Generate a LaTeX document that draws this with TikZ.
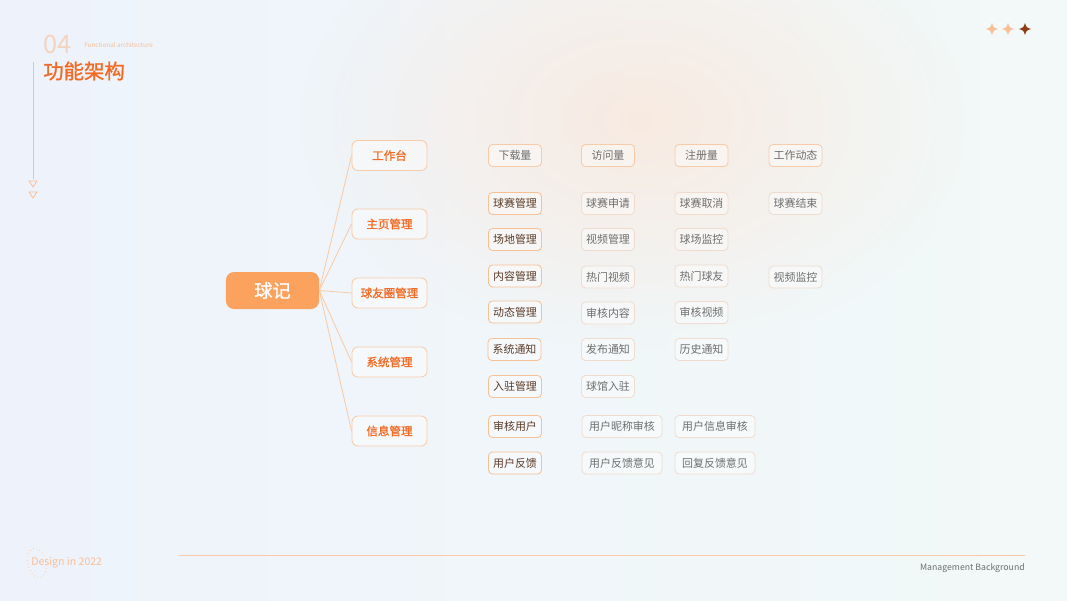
\documentclass[tikz,border=0pt]{standalone}
\usepackage{fontspec}
\setmainfont{Noto Sans CJK SC}
\newfontfamily\semibold[FakeBold=1.2]{Noto Sans CJK SC}
\usepackage{xcolor}
\usepackage{tikz}
\usetikzlibrary{positioning,fadings}
\definecolor{bgleft}{HTML}{EEF3FB}
\definecolor{bgright}{HTML}{F2F9F8}
\definecolor{glow}{HTML}{FCE4D4}
\definecolor{primary}{HTML}{F26B24}
\definecolor{rootfill}{HTML}{FBA25E}
\definecolor{edge}{HTML}{F8CBA8}
\definecolor{catline}{HTML}{F8C095}
\definecolor{leafline}{HTML}{F0DCCE}
\definecolor{dark}{HTML}{5A3A26}
\definecolor{muted}{HTML}{6E6E6E}
\definecolor{peach}{HTML}{F9BE96}
\definecolor{rust}{HTML}{8E3E12}

\tikzfading[name=softglow, inner color=transparent!35, outer color=transparent!100]

\newcommand{\sparkle}[3]{\fill[#3] (#1,#2-6) .. controls (#1+1.5,#2-1.5) .. (#1+6,#2) .. controls (#1+1.5,#2+1.5) .. (#1,#2+6) .. controls (#1-1.5,#2+1.5) .. (#1-6,#2) .. controls (#1-1.5,#2-1.5) .. (#1,#2-6) -- cycle;}

\tikzset{
    hub/.style={rectangle, rounded corners=0.2cm, fill=rootfill, minimum width=2.325cm, minimum height=0.925cm, text=white, font=\fontsize{13}{13}\selectfont\semibold},
    branch/.style={rectangle, rounded corners=0.15cm, draw=edge, line width=0.6pt, fill=white, fill opacity=0.4, text opacity=1, minimum width=1.875cm, minimum height=0.75cm, text=primary, font=\fontsize{8.2}{9}\selectfont\semibold},
    leaf/.style={rectangle, rounded corners=0.1cm, draw=leafline, line width=0.6pt, fill=white, fill opacity=0.4, text opacity=1, minimum width=1.325cm, minimum height=0.55cm, inner sep=1pt, text=muted, font=\fontsize{7.8}{9}\selectfont},
    stat/.style={leaf, draw=edge},
    cat/.style={leaf, draw=catline, text=dark},
    wide/.style={minimum width=2cm},
    link/.style={edge, line width=0.6pt}
}

\begin{document}
\begin{tikzpicture}[x=0.025cm, y=-0.025cm]
    \useasboundingbox (0,0) rectangle (1067,600);
    % background
    \fill[left color=bgleft, right color=bgright] (0,0) rectangle (1067,600);
    \fill[glow, path fading=softglow] (640,120) ellipse (340 and 230);

    % header
    \node[anchor=south west, inner sep=0, text=peach, font=\fontsize{18}{18}\selectfont, opacity=0.6] (num) at (43,54) {04};
    \node[anchor=west, inner sep=0, text=peach, font=\fontsize{4.5}{5}\selectfont] (subtitle) at (84,45) {Functional architecture};
    \node[anchor=west, inner sep=0, text=primary, font=\fontsize{14.5}{15}\selectfont\semibold] (title) at (43,71) {功能架构};
    \draw[peach, line width=0.5pt] (33,62) -- (33,179);
    \draw[peach, line width=0.5pt] (29,181) -- (37,181) -- (33,187) -- cycle;
    \draw[peach, line width=0.5pt] (29,192) -- (37,192) -- (33,198) -- cycle;
    \sparkle{992}{29}{peach}
    \sparkle{1008}{29}{peach}
    \sparkle{1025}{29}{rust}

    % tree
    \node[hub] (app) at (272.5,290.5) {球记};
    \node[branch] (work) at (389.5,155.5) {工作台};
    \node[branch] (home) at (389.5,224) {主页管理};
    \node[branch] (friends) at (389.5,293) {球友圈管理};
    \node[branch] (system) at (389.5,362) {系统管理};
    \node[branch] (info) at (389.5,431) {信息管理};

    \draw[link] (app.east) -- (work.west);
    \draw[link] (app.east) -- (home.west);
    \draw[link] (app.east) -- (friends.west);
    \draw[link] (app.east) -- (system.west);
    \draw[link] (app.east) -- (info.west);

    % leaves
    \node[stat] (downloads) at (515,155.5) {下载量};
    \node[stat] (visits) at (608,155.5) {访问量};
    \node[stat] (signups) at (701.5,155.5) {注册量};
    \node[stat] (activity) at (795.5,155.5) {工作动态};

    \node[cat] (matchmgr) at (515,203.5) {球赛管理};
    \node[leaf] (matchapply) at (608,203.5) {球赛申请};
    \node[leaf] (matchcancel) at (701.5,203.5) {球赛取消};
    \node[leaf] (matchend) at (795.5,203.5) {球赛结束};

    \node[cat] (venuemgr) at (515,239.5) {场地管理};
    \node[leaf] (videomgr) at (608,239.5) {视频管理};
    \node[leaf] (venuewatch) at (701.5,239.5) {球场监控};

    \node[cat] (contentmgr) at (515,276) {内容管理};
    \node[leaf] (hotvideo) at (608,277) {热门视频};
    \node[leaf] (hotfriend) at (701.5,276) {热门球友};
    \node[leaf] (videowatch) at (795.5,277) {视频监控};

    \node[cat] (feedmgr) at (515,312) {动态管理};
    \node[leaf] (checkcontent) at (608,313) {审核内容};
    \node[leaf] (checkvideo) at (701.5,312.5) {审核视频};

    \node[cat] (notice) at (514.5,349.5) {系统通知};
    \node[leaf] (postnotice) at (608,349.5) {发布通知};
    \node[leaf] (oldnotice) at (701.5,349.5) {历史通知};

    \node[cat] (entrymgr) at (515,386.5) {入驻管理};
    \node[leaf] (venueentry) at (608,386.5) {球馆入驻};

    \node[cat] (usercheck) at (515,426.5) {审核用户};
    \node[leaf, wide] (nickcheck) at (622,426.5) {用户昵称审核};
    \node[leaf, wide] (profilecheck) at (715,426.5) {用户信息审核};

    \node[cat] (feedback) at (515,463) {用户反馈};
    \node[leaf, wide] (feedbacklist) at (622,463) {用户反馈意见};
    \node[leaf, wide] (feedbackreply) at (715,463) {回复反馈意见};

    % footer
    \draw[edge, line width=0.6pt] (179,555) -- (1025,555);
    \node[anchor=west, inner sep=0, text=peach, font=\fontsize{7.5}{8}\selectfont] (design) at (31,563) {Design in 2022};
    \draw[peach, dotted, line width=0.5pt, rotate around={12:(37,563)}] (37,563) ellipse (9 and 15);
    \node[anchor=east, inner sep=0, text=muted, font=\fontsize{6.2}{6}\selectfont] (footer) at (1025,568) {Management Background};
\end{tikzpicture}
\end{document}
